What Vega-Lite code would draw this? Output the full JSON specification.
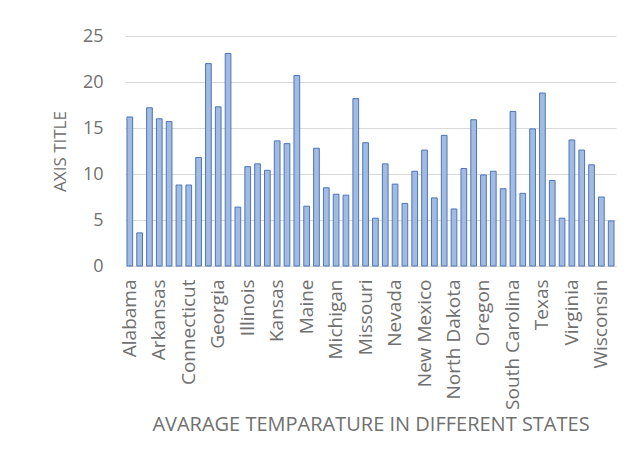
{
  "$schema": "https://vega.github.io/schema/vega-lite/v6.json",
  "autosize": "none",
  "width": 491,
  "height": 230,
  "padding": {"left": 125, "top": 36, "right": 28, "bottom": 193},
  "background": "white",
  "config": {
    "view": {"stroke": null},
    "font": "Open Sans"
  },
  "data": {
    "values": [
      {"state": "Alabama", "temp": 16.2},
      {"state": "Alaska", "temp": 3.6},
      {"state": "Arizona", "temp": 17.2},
      {"state": "Arkansas", "temp": 16.0},
      {"state": "California", "temp": 15.7},
      {"state": "Colorado", "temp": 8.8},
      {"state": "Connecticut", "temp": 8.8},
      {"state": "Delaware", "temp": 11.8},
      {"state": "Florida", "temp": 22.0},
      {"state": "Georgia", "temp": 17.3},
      {"state": "Hawaii", "temp": 23.1},
      {"state": "Idaho", "temp": 6.4},
      {"state": "Illinois", "temp": 10.8},
      {"state": "Indiana", "temp": 11.1},
      {"state": "Iowa", "temp": 10.4},
      {"state": "Kansas", "temp": 13.6},
      {"state": "Kentucky", "temp": 13.3},
      {"state": "Louisiana", "temp": 20.7},
      {"state": "Maine", "temp": 6.5},
      {"state": "Maryland", "temp": 12.8},
      {"state": "Massachusetts", "temp": 8.5},
      {"state": "Michigan", "temp": 7.8},
      {"state": "Minnesota", "temp": 7.7},
      {"state": "Mississippi", "temp": 18.2},
      {"state": "Missouri", "temp": 13.4},
      {"state": "Montana", "temp": 5.2},
      {"state": "Nebraska", "temp": 11.1},
      {"state": "Nevada", "temp": 8.9},
      {"state": "New Hampshire", "temp": 6.8},
      {"state": "New Jersey", "temp": 10.3},
      {"state": "New Mexico", "temp": 12.6},
      {"state": "New York", "temp": 7.4},
      {"state": "North Carolina", "temp": 14.2},
      {"state": "North Dakota", "temp": 6.2},
      {"state": "Ohio", "temp": 10.6},
      {"state": "Oklahoma", "temp": 15.9},
      {"state": "Oregon", "temp": 9.9},
      {"state": "Pennsylvania", "temp": 10.3},
      {"state": "Rhode Island", "temp": 8.4},
      {"state": "South Carolina", "temp": 16.8},
      {"state": "South Dakota", "temp": 7.9},
      {"state": "Tennessee", "temp": 14.9},
      {"state": "Texas", "temp": 18.8},
      {"state": "Utah", "temp": 9.3},
      {"state": "Vermont", "temp": 5.2},
      {"state": "Virginia", "temp": 13.7},
      {"state": "Washington", "temp": 12.6},
      {"state": "West Virginia", "temp": 11.0},
      {"state": "Wisconsin", "temp": 7.5},
      {"state": "Wyoming", "temp": 4.9}
    ]
  },
  "mark": {"type": "bar", "fill": "#a3bbe0", "stroke": "#4a76bb", "strokeWidth": 1},
  "encoding": {
    "x": {
      "field": "state",
      "type": "nominal",
      "sort": null,
      "scale": {"paddingInner": 0.42, "paddingOuter": 0.2},
      "axis": {
        "values": ["Alabama", "Arkansas", "Connecticut", "Georgia", "Illinois", "Kansas", "Maine", "Michigan", "Missouri", "Nevada", "New Mexico", "North Dakota", "Oregon", "South Carolina", "Texas", "Virginia", "Wisconsin"],
        "title": "AVARAGE TEMPARATURE IN DIFFERENT STATES",
        "titleFont": "Open Sans",
        "titleFontSize": 20,
        "titleFontWeight": "normal",
        "titleColor": "#707070",
        "titlePadding": 5,
        "labelAngle": -90,
        "labelFont": "Open Sans",
        "labelFontSize": 19,
        "labelColor": "#707070",
        "labelPadding": 13,
        "ticks": false,
        "domainColor": "#d9d9d9",
        "grid": false
      }
    },
    "y": {
      "field": "temp",
      "type": "quantitative",
      "scale": {"domain": [0, 25]},
      "axis": {
        "values": [0, 5, 10, 15, 20, 25],
        "title": "AXIS TITLE",
        "titleFont": "Open Sans",
        "titleFontSize": 17,
        "titleFontWeight": "normal",
        "titleColor": "#707070",
        "titlePadding": 13,
        "labelFont": "Open Sans",
        "labelFontSize": 18,
        "labelColor": "#707070",
        "labelPadding": 22,
        "ticks": false,
        "domain": false,
        "gridColor": "#d9d9d9",
        "gridWidth": 1
      }
    }
  }
}
